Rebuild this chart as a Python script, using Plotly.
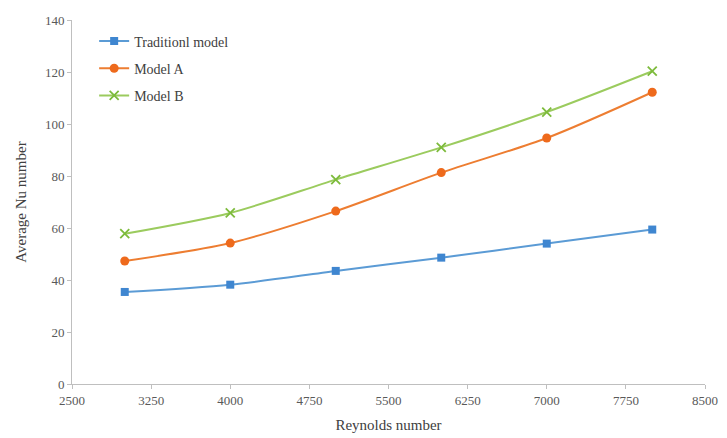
import plotly.graph_objects as go

reynolds = [3000, 4000, 5000, 6000, 7000, 8000]
traditional = [35.4, 38.2, 43.5, 48.6, 54.0, 59.4]
model_a = [47.3, 54.2, 66.5, 81.3, 94.6, 112.2]
model_b = [57.8, 65.8, 78.6, 91.0, 104.6, 120.3]

x_ticks = [2500, 3250, 4000, 4750, 5500, 6250, 7000, 7750, 8500]
y_ticks = [0, 20, 40, 60, 80, 100, 120, 140]

font_family = "Liberation Serif"
text_color = "#595959"
axis_color = "#BFBFBF"

fig = go.Figure()
fig.add_trace(go.Scatter(
    x=reynolds, y=traditional, name="Traditionl model", mode="lines+markers",
    legendgroup="t",
    line=dict(color="#5B9BD5", width=2, shape="spline", smoothing=0.8),
    marker=dict(symbol="square", size=8, color="#3F86D0"),
))
fig.add_trace(go.Scatter(
    x=reynolds, y=model_a, name="Model A", mode="lines+markers",
    legendgroup="a",
    line=dict(color="#ED7D31", width=2, shape="spline", smoothing=0.8),
    marker=dict(symbol="circle", size=9, color="#EE6A1C"),
))
fig.add_trace(go.Scatter(
    x=reynolds, y=model_b, name="Model B", mode="lines+markers",
    legendgroup="b",
    line=dict(color="#9BCB5E", width=2, shape="spline", smoothing=0.8),
    marker=dict(symbol="x-thin", size=9, color="#7DBB3C", line=dict(width=1.8, color="#7DBB3C")),
))

fig.update_layout(
    width=727, height=438,
    margin=dict(l=72, r=22, t=20, b=54),
    paper_bgcolor="white", plot_bgcolor="white",
    font=dict(family=font_family, color=text_color, size=13),
    showlegend=True,
    legend=dict(x=0.035, y=0.985, xanchor="left", yanchor="top",
                bgcolor="rgba(0,0,0,0)", font=dict(size=14, color="#404040"),
                traceorder="grouped", tracegroupgap=6),
    xaxis=dict(
        range=[2500, 8500], tickmode="array", tickvals=x_ticks,
        ticktext=[str(v) for v in x_ticks], automargin=False,
        showgrid=False, zeroline=False, showline=True, linecolor=axis_color, linewidth=1,
        ticks="outside", ticklen=4, tickcolor=axis_color,
        tickfont=dict(size=13, color=text_color),
        title=dict(text="Reynolds number", font=dict(size=15, color="#404040"), standoff=12),
    ),
    yaxis=dict(
        range=[0, 140], tickmode="array", tickvals=y_ticks, automargin=False,
        showgrid=False, zeroline=False, showline=True, linecolor=axis_color, linewidth=1,
        ticks="outside", ticklen=4, tickcolor=axis_color,
        tickfont=dict(size=13, color=text_color),
        title=dict(text="Average Nu number", font=dict(size=15, color="#404040"), standoff=14),
    ),
)

fig.write_html("out.html")
